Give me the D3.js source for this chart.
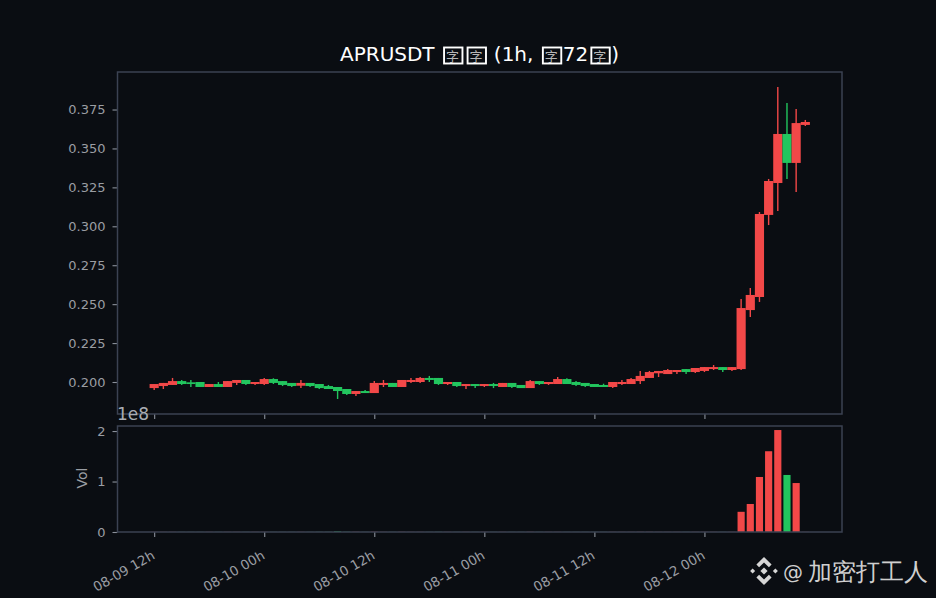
<!DOCTYPE html>
<html><head><meta charset="utf-8">
<script src="https://cdn.jsdelivr.net/npm/d3@7"></script>
<style>
html,body{margin:0;padding:0;background:#0a0d12;overflow:hidden}
svg{display:block}
text{font-family:"DejaVu Sans",sans-serif}
</style></head><body>
<svg id="c" width="936" height="598"></svg>
<script>
const titleParts = ["APRUSDT ", "字", "字", " (1h, ", "字", "72", "字", ")"];
const watermarkAt = "@";
const watermarkName = "加密打工人";
const volLabel = "Vol";
const startTime = new Date(2025, 7, 9, 12);
const opens = [.1961,.1974,.1981,.2006,.1998,.2000,.1968,.1987,.1968,.1994,.2013,.1987,.1987,.2019,.2006,.1994,.1976,.1994,.1987,.1974,.1968,.1955,.1923,.1942,.1929,.1981,.1994,.1968,.2000,.2000,.2026,.2026,.1987,.2000,.1974,.1987,.1974,.1987,.1968,.1994,.1981,.1961,.2006,.1987,.1987,.2019,.2000,.1994,.1987,.1981,.1968,.1987,.1987,.2006,.2026,.2056,.2051,.2064,.2083,.2064,.2071,.2083,.2096,.2077,.2083,.2462,.2546,.3073,.3278,.3593,.3407,.3651];
const closes = [.1987,.1994,.2006,.1987,.1987,.1968,.1987,.1968,.2006,.2013,.1987,.2000,.2019,.1994,.1981,.1974,.1994,.1974,.1961,.1955,.1942,.1923,.1942,.1929,.1994,.1994,.1968,.2013,.2013,.2026,.2013,.1987,.2000,.1974,.1987,.1974,.1987,.1974,.1994,.1968,.1961,.2006,.1987,.2000,.2019,.1987,.1981,.1974,.1968,.1968,.2000,.2000,.2019,.2039,.2064,.2071,.2077,.2077,.2064,.2090,.2096,.2096,.2077,.2096,.2475,.2559,.3079,.3291,.3593,.3407,.3663,.3670];
const highs = [.1987,.1994,.2026,.2013,.2013,.2000,.1987,.2000,.2006,.2013,.2013,.2000,.2026,.2024,.2006,.1994,.2013,.1994,.1987,.1981,.1968,.1955,.1942,.1949,.2006,.2013,.1994,.2013,.2026,.2032,.2039,.2026,.2000,.2000,.1987,.1987,.1987,.1994,.1994,.1994,.1981,.2013,.2006,.2000,.2032,.2024,.2006,.1994,.1987,.1989,.2000,.2013,.2026,.2071,.2071,.2071,.2083,.2077,.2083,.2090,.2096,.2109,.2096,.2096,.2533,.2604,.3092,.3304,.3895,.3792,.3753,.3683];
const lows = [.1949,.1955,.1981,.1981,.1968,.1968,.1968,.1968,.1968,.1981,.1981,.1981,.1981,.1987,.1974,.1968,.1961,.1968,.1955,.1955,.1891,.1917,.1910,.1929,.1929,.1968,.1968,.1968,.1994,.1994,.2000,.1981,.1981,.1968,.1955,.1961,.1968,.1961,.1968,.1961,.1961,.1961,.1981,.1981,.1987,.1987,.1974,.1968,.1968,.1968,.1961,.1981,.1987,.1987,.2026,.2032,.2051,.2051,.2051,.2058,.2064,.2077,.2064,.2071,.2077,.2417,.2514,.3008,.3098,.3304,.3220,.3644];
const volumes = [.002,.002,.002,.002,.002,.002,.002,.002,.002,.002,.002,.002,.002,.002,.002,.002,.002,.002,.003,.003,.012,.004,.003,.002,.004,.002,.002,.003,.002,.002,.002,.003,.002,.002,.002,.002,.002,.002,.002,.002,.002,.003,.002,.002,.002,.002,.002,.002,.002,.002,.002,.002,.002,.003,.003,.002,.002,.002,.002,.002,.002,.002,.002,.002,.40,.555,1.09,1.60,2.02,1.13,.97,.002];
const priceTicks = [.2,.225,.25,.275,.3,.325,.35,.375];
const volTicks = [0,1,2];

const UP="#f24848", DOWN="#22c55e", SPINE="#3b4252", TICK="#8b919b", LABEL="#9a9da3";
const svg = d3.select("#c");
const L=117.5,R=842,T1=72,B1=414,T2=426,B2=532;
const hour = 3600e3;
const t = i => new Date(+startTime + i*hour);
const x = d3.scaleTime().domain([t(-4), t(75)]).range([L,R]);
const y = d3.scaleLinear().domain([.17945,.3991]).range([B1,T1]);
const yv = d3.scaleLinear().domain([0,2.1]).range([B2,T2]);
const xTicks = d3.range(0,72,12).map(t);
const bodyW = x(t(1))-x(t(0)), volW = x(t(.78))-x(t(0));
const candles = opens.map((o,i)=>({i,o,c:closes[i],h:highs[i],l:lows[i],v:volumes[i],col:closes[i]>=o?UP:DOWN}));

function style(g,size,col){
  g.selectAll(".domain").remove();
  g.selectAll("line").attr("stroke",TICK).attr("stroke-width",1.1);
  g.selectAll("text").attr("fill",col).attr("font-size",size);
}
svg.append("g").selectAll("line").data(candles).join("line")
  .attr("x1",d=>x(t(d.i))).attr("x2",d=>x(t(d.i)))
  .attr("y1",d=>y(d.h)).attr("y2",d=>y(d.l))
  .attr("stroke",d=>d.col).attr("stroke-width",1.4);
svg.append("g").selectAll("rect").data(candles).join("rect")
  .attr("x",d=>x(t(d.i))-bodyW/2).attr("width",bodyW)
  .attr("y",d=>y(Math.max(d.o,d.c))).attr("height",d=>Math.max(.8,Math.abs(y(d.o)-y(d.c))))
  .attr("fill",d=>d.col);
svg.append("g").selectAll("rect").data(candles).join("rect")
  .attr("x",d=>x(t(d.i))-volW/2).attr("width",volW)
  .attr("y",d=>yv(d.v)).attr("height",d=>yv(0)-yv(d.v))
  .attr("fill",d=>d.col);

const fmtX = d3.timeFormat("%m-%d %Hh");
svg.append("g").attr("transform",`translate(0,${B1})`)
  .call(d3.axisBottom(x).tickValues(xTicks).tickSize(5).tickFormat(""))
  .call(g=>style(g,13,LABEL));
svg.append("g").attr("transform",`translate(${L},0)`)
  .call(d3.axisLeft(y).tickValues(priceTicks).tickSize(5).tickPadding(7).tickFormat(d3.format(".3f")))
  .call(g=>style(g,13,LABEL));
svg.append("g").attr("transform",`translate(${L},0)`)
  .call(d3.axisLeft(yv).tickValues(volTicks).tickSize(5).tickPadding(7).tickFormat(d3.format("d")))
  .call(g=>style(g,13,LABEL));
const xa = svg.append("g").attr("transform",`translate(0,${B2})`)
  .call(d3.axisBottom(x).tickValues(xTicks).tickSize(5).tickFormat(fmtX))
  .call(g=>style(g,13.3,LABEL));
xa.selectAll("text").attr("text-anchor","end").attr("dy",null).attr("y",0)
  .attr("transform","translate(1,26) rotate(-30)");

[[T1,B1],[T2,B2]].forEach(([a,b])=>svg.append("rect")
  .attr("x",L).attr("y",a).attr("width",R-L).attr("height",b-a)
  .attr("fill","none").attr("stroke",SPINE).attr("stroke-width",1.5));

svg.append("text").attr("x",117).attr("y",420).attr("font-size",17).attr("fill","#a9adb4").text("1e8");
svg.append("text").attr("transform","translate(87,478) rotate(-90)").attr("text-anchor","middle")
  .attr("font-size",14).attr("fill",LABEL).text(volLabel);

const title = svg.append("text").attr("x",340).attr("y",61).attr("font-size",20).attr("fill","#fff");
titleParts.forEach((s,i)=>{
  const box = s==="字", prevBox = titleParts[i-1]==="字";
  const ts = title.append("tspan").text(s).style("white-space","pre");
  if(box){ ts.attr("font-family","'Noto Sans CJK SC'").attr("font-size",13).attr("fill","#b5b5b5")
    .attr("dx",prevBox?10.5:5); }
  else if(prevBox){ ts.attr("dx",5); }
});
const tn = title.node(), full = titleParts.join("");
[...full].forEach((ch,k)=>{
  if(ch!=="字")return;
  const e = tn.getExtentOfChar(k), cx=e.x+e.width/2+0.8;
  svg.append("rect").attr("x",cx-9.2).attr("y",47.5).attr("width",18.4).attr("height",16)
    .attr("fill","none").attr("stroke","#fff").attr("stroke-width",1.9);
});

const logo = svg.append("g").attr("transform","translate(764,571)").attr("fill","#d6d6d6");
["M0,-14L7.6,-6.4L4.9,-3.7L0,-8.6L-4.9,-3.7L-7.6,-6.4Z",
 "M0,14L7.6,6.4L4.9,3.7L0,8.6L-4.9,3.7L-7.6,6.4Z",
 "M0,-3.6L3.6,0L0,3.6L-3.6,0Z",
 "M-11.4,-2.5L-8.9,0L-11.4,2.5L-13.9,0Z",
 "M11.4,-2.5L13.9,0L11.4,2.5L8.9,0Z"].forEach(d=>logo.append("path").attr("d",d));
const wm = svg.append("text").attr("x",783).attr("y",579).attr("font-family","'Noto Sans CJK SC'")
  .attr("font-size",24).attr("fill","#cfcfcf");
wm.append("tspan").attr("font-size",20).text(watermarkAt);
wm.append("tspan").attr("x",808).attr("y",580).text(watermarkName);
</script>
</body></html>
